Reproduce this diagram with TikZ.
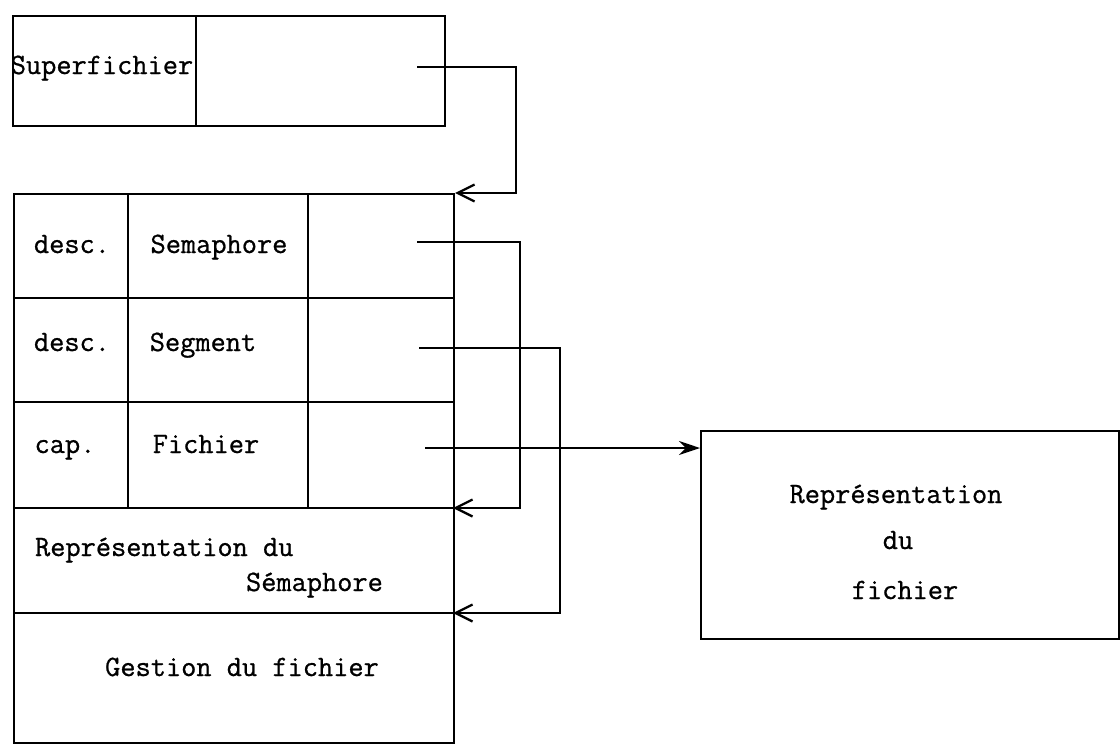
\documentclass[tikz,border=0pt]{standalone}
\usepackage{fontspec}
\newfontfamily\typew{Latin Modern Mono}[FakeBold=0.8]
\usepackage{tikz}
\usetikzlibrary{arrows.meta,positioning}

\begin{document}
\begin{tikzpicture}[
  x=0.02cm, y=-0.02cm,
  line width=1.2pt,
  txt/.style={font=\fontsize{16.8}{27}\selectfont\typew, inner sep=0pt, anchor=base},
  frame/.style={draw, inner sep=0pt, anchor=north west},
  back/.style={line width=1pt, -{Straight Barb[length=3.4mm,width=3.4mm,line width=1.3pt]}},
  ptr/.style={line width=1pt, -{Stealth[length=4.2mm,width=2.8mm]}}
]
\useasboundingbox (0,0) rectangle (1120,751);

% superfichier
\node[frame, minimum width=8.64cm, minimum height=2.2cm] (sup) at (12,15) {};
\draw (196,15) -- (196,125);
\node[txt] (suptxt) at (102,74) {Superfichier};
\coordinate (supptr) at (417,67);

% segment du fichier
\node[frame, minimum width=8.8cm, minimum height=10.98cm] (main) at (13,193) {};
\draw (128,193) -- (128,508);
\draw (308,193) -- (308,508);
\foreach \y in {298,402,508,613}
  \draw (13,\y) -- (453,\y);
\coordinate (semin) at (453,508);
\coordinate (segin) at (453,613);

\node[txt] (d1) at (72,253) {desc.};
\node[txt] (sem) at (219,253) {Semaphore};
\node[txt] (d2) at (72,351) {desc.};
\node[txt] (seg) at (203,351) {Segment};
\node[txt] (cap) at (65,453) {cap.};
\node[txt] (fic) at (206,453) {Fichier};
\node[txt, anchor=base west] (rep1) at (34,556) {Représentation du};
\node[txt, anchor=base west] (rep2) at (245,591) {Sémaphore};
\node[txt] (ges) at (242,676) {Gestion du fichier};

\coordinate (semptr) at (417,242);
\coordinate (segptr) at (419,348);
\coordinate (ficptr) at (425,448);

% representation du fichier
\node[frame, minimum width=8.36cm, minimum height=4.16cm] (repf) at (700,430) {};
\node[txt] (rt1) at (896,503) {Représentation};
\node[txt] (rt2) at (898,549) {du};
\node[txt] (rt3) at (905,599) {fichier};

% pointeurs
\draw[back] (supptr) -- (516,67) |- (main.north east);
\draw[back] (semptr) -- (520,242) |- (semin);
\draw[back] (segptr) -- (560,348) |- (segin);
\draw[ptr] (ficptr) -- (ficptr -| repf.west);
\end{tikzpicture}
\end{document}
